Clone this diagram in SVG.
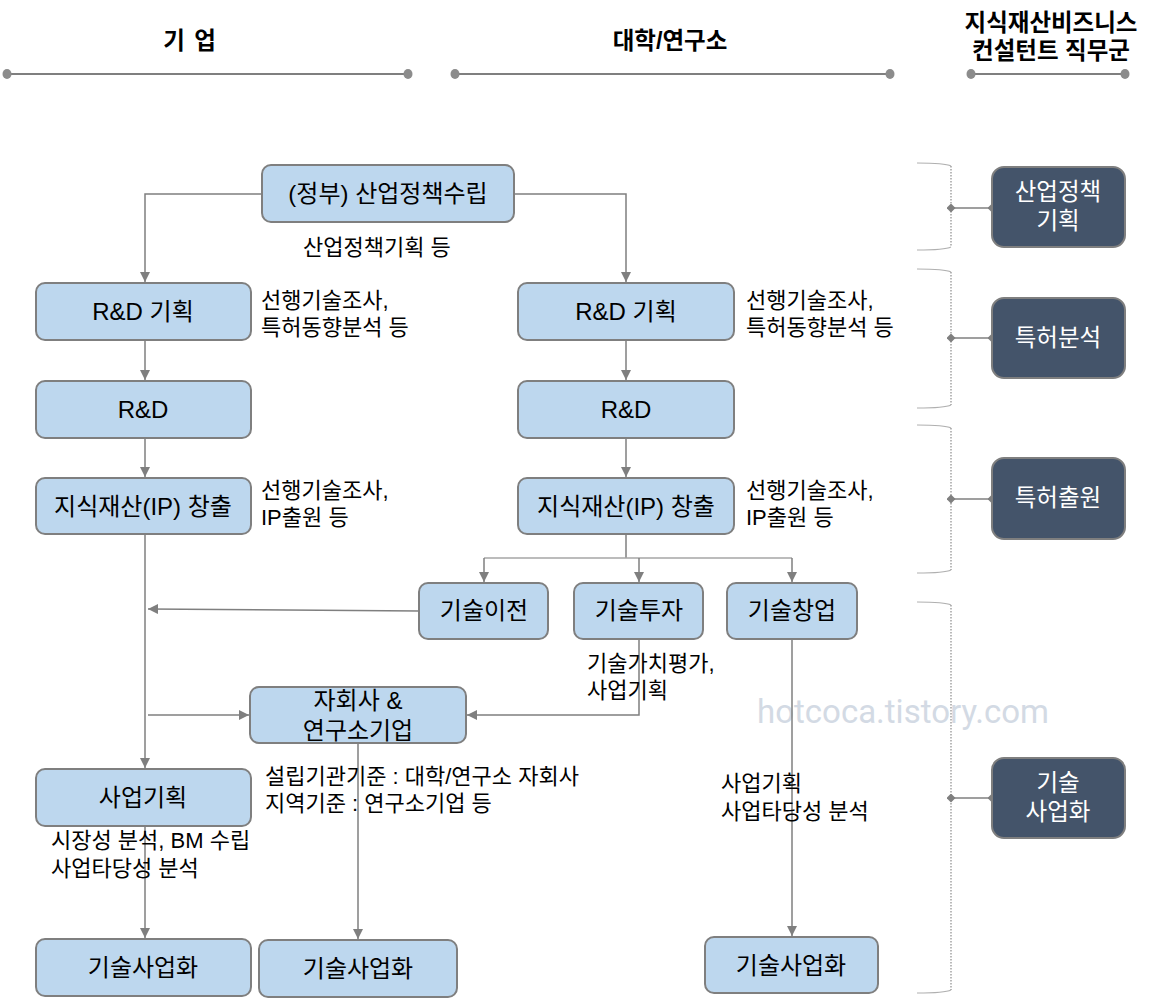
<svg xmlns="http://www.w3.org/2000/svg" width="1153" height="999" viewBox="0 0 1153 999">
<defs>
<marker id="ah" viewBox="0 0 10 10" refX="10" refY="5" markerWidth="10" markerHeight="10" markerUnits="userSpaceOnUse" orient="auto">
<path d="M0,0 L10,5 L0,10 Z" fill="#7f7f7f"/>
</marker>
<marker id="dm" viewBox="0 0 10 10" refX="5" refY="5" markerWidth="9" markerHeight="9" markerUnits="userSpaceOnUse" orient="auto">
<path d="M0,5 L5,0 L10,5 L5,10 Z" fill="#7f7f7f"/>
</marker>
<marker id="dt" viewBox="0 0 10 10" refX="5" refY="5" markerWidth="10" markerHeight="12" markerUnits="userSpaceOnUse">
<ellipse cx="5" cy="5" rx="4.5" ry="5" fill="#8c8c8c"/>
</marker>
</defs>
<style>
text{font-family:"Liberation Sans","Noto Sans CJK KR",sans-serif;fill:#000}
.hd{font-size:23.5px;font-weight:bold;text-anchor:middle}
.bx{fill:#bdd7ee;stroke:#7f7f7f;stroke-width:2}
.dk{fill:#44546a;stroke:#7f7f7f;stroke-width:2}
.bt{font-size:24px;text-anchor:middle;dominant-baseline:central}
.dt{font-size:23.5px;text-anchor:middle;dominant-baseline:central;fill:#fff}
.an{font-size:22px}
.ln{fill:none;stroke:#7f7f7f;stroke-width:1.5}
.hl{fill:none;stroke:#7f7f7f;stroke-width:2}
.br{fill:none;stroke:#b0b0b0;stroke-width:1.2}
.bv{fill:none;stroke:#8c8c8c;stroke-width:1.2;stroke-dasharray:1.5 1.5}
.wm{font-family:Roboto,"Liberation Sans",sans-serif;font-size:33px;fill:#d3dae4}
</style>

<g id="headers">
<text class="hd" x="174" y="49">기</text>
<text class="hd" x="205" y="49">업</text>
<text class="hd" x="670" y="49">대학/연구소</text>
<text class="hd" x="1051" y="31">지식재산비즈니스</text>
<text class="hd" x="1051" y="59">컨설턴트 직무군</text>
<path class="hl" d="M7,74 L408,74" marker-start="url(#dt)" marker-end="url(#dt)"/>
<path class="hl" d="M455,74 L890,74" marker-start="url(#dt)" marker-end="url(#dt)"/>
<path class="hl" d="M971,74 L1125,74" marker-start="url(#dt)" marker-end="url(#dt)"/>
</g>

<text class="wm" x="757" y="723">hotcoca.tistory.com</text>

<g id="connectors">
<path class="ln" d="M262,194 L145,194 L145,282" marker-end="url(#ah)"/>
<path class="ln" d="M514,194 L626,194 L626,282" marker-end="url(#ah)"/>
<path class="ln" d="M145,340 L145,380" marker-end="url(#ah)"/>
<path class="ln" d="M145,438 L145,477" marker-end="url(#ah)"/>
<path class="ln" d="M145,534 L145,768" marker-end="url(#ah)"/>
<path class="ln" d="M626,340 L626,380" marker-end="url(#ah)"/>
<path class="ln" d="M626,438 L626,477" marker-end="url(#ah)"/>
<path class="ln" d="M626,534 L626,558"/>
<path class="ln" d="M484,558 L792,558" style="stroke:#a6a6a6"/>
<path class="ln" d="M484,558 L484,582" marker-end="url(#ah)"/>
<path class="ln" d="M639,558 L639,582" marker-end="url(#ah)"/>
<path class="ln" d="M792,558 L792,582" marker-end="url(#ah)"/>
<path class="ln" d="M419,611 L148,609" marker-end="url(#ah)"/>
<path class="ln" d="M148,715 L249,715" marker-end="url(#ah)"/>
<path class="ln" d="M639,639 L639,715 L467,715" marker-end="url(#ah)"/>
<path class="ln" d="M358,743 L358,939" marker-end="url(#ah)"/>
<path class="ln" d="M145,826 L145,938" marker-end="url(#ah)"/>
<path class="ln" d="M792,639 L792,936" marker-end="url(#ah)"/>
</g>

<g id="brackets">
<path class="br" d="M917,163 Q945,163 951,166"/>
<path class="bv" d="M951,166 L951,247"/>
<path class="br" d="M917,250 Q945,250 951,247"/>
<path class="ln" d="M951,208 L992,208" marker-start="url(#dm)" marker-end="url(#dm)"/>

<path class="br" d="M917,269 Q945,269 951,272"/>
<path class="bv" d="M951,272 L951,405"/>
<path class="br" d="M917,408 Q945,408 951,405"/>
<path class="ln" d="M951,338 L992,338" marker-start="url(#dm)" marker-end="url(#dm)"/>

<path class="br" d="M917,425 Q945,425 951,428"/>
<path class="bv" d="M951,428 L951,570"/>
<path class="br" d="M917,573 Q945,573 951,570"/>
<path class="ln" d="M951,499 L992,499" marker-start="url(#dm)" marker-end="url(#dm)"/>

<path class="br" d="M917,602 Q945,602 951,605"/>
<path class="bv" d="M951,605 L951,990"/>
<path class="br" d="M917,993 Q945,993 951,990"/>
<path class="ln" d="M951,798 L992,798" marker-start="url(#dm)" marker-end="url(#dm)"/>
</g>

<g id="n-gov"><rect class="bx" x="262" y="165" width="252" height="57" rx="9"/><text class="bt" x="388" y="193">(정부) 산업정책수립</text></g>
<text class="an" x="303" y="255">산업정책기획 등</text>

<g id="n-rdp-l"><rect class="bx" x="36" y="283" width="215" height="57" rx="9"/><text class="bt" x="143" y="311">R&amp;D 기획</text></g>
<text class="an" x="261" y="308">선행기술조사,</text>
<text class="an" x="261" y="335">특허동향분석 등</text>
<g id="n-rdp-r"><rect class="bx" x="518" y="283" width="216" height="57" rx="9"/><text class="bt" x="626" y="311">R&amp;D 기획</text></g>
<text class="an" x="746" y="308">선행기술조사,</text>
<text class="an" x="746" y="335">특허동향분석 등</text>

<g id="n-rd-l"><rect class="bx" x="36" y="381" width="215" height="57" rx="9"/><text class="bt" x="143" y="409">R&amp;D</text></g>
<g id="n-rd-r"><rect class="bx" x="518" y="381" width="216" height="57" rx="9"/><text class="bt" x="626" y="409">R&amp;D</text></g>

<g id="n-ip-l"><rect class="bx" x="36" y="478" width="215" height="56" rx="9"/><text class="bt" x="143" y="506">지식재산(IP) 창출</text></g>
<text class="an" x="261" y="498">선행기술조사,</text>
<text class="an" x="261" y="525">IP출원 등</text>
<g id="n-ip-r"><rect class="bx" x="518" y="478" width="216" height="56" rx="9"/><text class="bt" x="626" y="506">지식재산(IP) 창출</text></g>
<text class="an" x="746" y="498">선행기술조사,</text>
<text class="an" x="746" y="525">IP출원 등</text>

<g id="n-transfer"><rect class="bx" x="419" y="583" width="129" height="56" rx="9"/><text class="bt" x="484" y="610">기술이전</text></g>
<g id="n-invest"><rect class="bx" x="574" y="583" width="129" height="56" rx="9"/><text class="bt" x="639" y="610">기술투자</text></g>
<g id="n-startup"><rect class="bx" x="727" y="583" width="130" height="56" rx="9"/><text class="bt" x="792" y="610">기술창업</text></g>
<text class="an" x="587" y="671">기술가치평가,</text>
<text class="an" x="587" y="698">사업기획</text>

<g id="n-sub"><rect class="bx" x="250" y="687" width="216" height="56" rx="9"/><text class="bt" x="358" y="700">자회사 &amp;</text><text class="bt" x="358" y="730">연구소기업</text></g>
<text class="an" x="265" y="784">설립기관기준 : 대학/연구소 자회사</text>
<text class="an" x="265" y="811">지역기준 : 연구소기업 등</text>

<g id="n-biz"><rect class="bx" x="36" y="769" width="215" height="57" rx="9"/><text class="bt" x="143" y="797">사업기획</text></g>
<text class="an" x="51" y="848">시장성 분석, BM 수립</text>
<text class="an" x="51" y="876">사업타당성 분석</text>
<text class="an" x="721" y="791">사업기획</text>
<text class="an" x="721" y="819">사업타당성 분석</text>

<g id="n-com-l"><rect class="bx" x="36" y="939" width="215" height="57" rx="9"/><text class="bt" x="143" y="967">기술사업화</text></g>
<g id="n-com-m"><rect class="bx" x="259" y="940" width="198" height="57" rx="9"/><text class="bt" x="358" y="968">기술사업화</text></g>
<g id="n-com-r"><rect class="bx" x="705" y="937" width="173" height="56" rx="9"/><text class="bt" x="791" y="965">기술사업화</text></g>

<g id="r-policy"><rect class="dk" x="992" y="167" width="133" height="80" rx="12"/><text class="dt" x="1058" y="192">산업정책</text><text class="dt" x="1058" y="221">기획</text></g>
<g id="r-analysis"><rect class="dk" x="992" y="298" width="133" height="80" rx="12"/><text class="dt" x="1058" y="338">특허분석</text></g>
<g id="r-filing"><rect class="dk" x="992" y="458" width="133" height="81" rx="12"/><text class="dt" x="1058" y="498">특허출원</text></g>
<g id="r-comm"><rect class="dk" x="992" y="758" width="133" height="80" rx="12"/><text class="dt" x="1058" y="783">기술</text><text class="dt" x="1058" y="812">사업화</text></g>
</svg>
